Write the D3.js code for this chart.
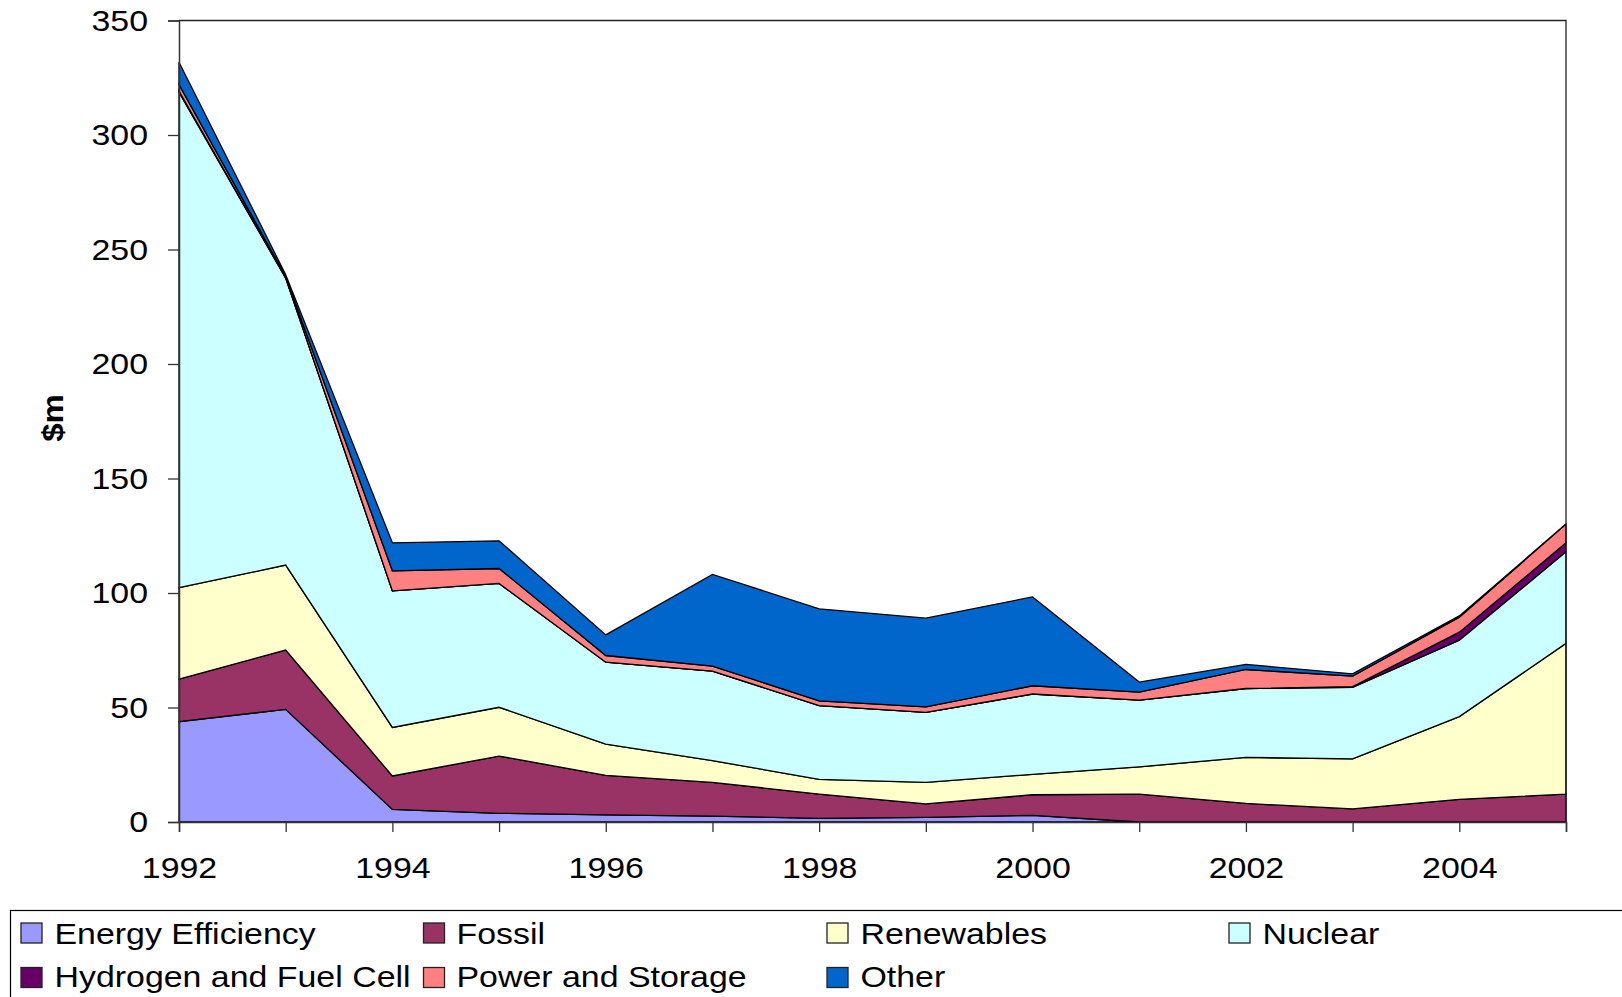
<!DOCTYPE html>
<html>
<head>
<meta charset="utf-8">
<script src="https://cdn.jsdelivr.net/npm/d3@7"></script>
<style>
  html, body { margin: 0; padding: 0; background: #fff; }
  svg { display: block; }
  text { font-family: "Liberation Sans", Arial, sans-serif; fill: #000; }
</style>
</head>
<body>
<svg id="chart" width="1622" height="997"></svg>
<script>
// ---- data ----
const years = [1992, 1993, 1994, 1995, 1996, 1997, 1998, 1999, 2000, 2001, 2002, 2003, 2004, 2005];
const energyEfficiency = [43.8, 49.2, 5.5, 3.8, 3.1, 2.6, 1.6, 2.0, 2.9, 0, 0, 0, 0, 0];
const fossil           = [18.6, 25.9, 14.6, 25.0, 17.3, 14.7, 10.6, 5.9, 9.0, 12.2, 8.1, 5.7, 9.9, 12.2];
const renewables       = [39.9, 37.1, 21.2, 21.3, 13.6, 9.5, 6.4, 9.4, 8.9, 11.9, 20.1, 21.9, 36.1, 65.8];
const nuclear          = [216.4, 125.3, 59.6, 54.1, 35.8, 39.1, 32.2, 30.6, 35.1, 29.1, 30.1, 31.2, 33.4, 40.0];
const hydrogen         = [0.5, 0.2, 0, 0, 0, 0, 0, 0, 0, 0, 0, 0.3, 3.5, 3.9];
const powerStorage     = [2.8, 0.5, 8.8, 6.5, 2.9, 2.2, 2.1, 2.4, 3.6, 3.5, 8.3, 4.6, 6.5, 8.2];
const other            = [9.8, 0.8, 12.2, 12.1, 9.0, 40.0, 40.2, 38.7, 38.8, 4.4, 2.2, 1.0, 0.6, 0];

const seriesNames = ["Energy Efficiency", "Fossil", "Renewables", "Nuclear", "Hydrogen and Fuel Cell", "Power and Storage", "Other"];
const seriesValues = [energyEfficiency, fossil, renewables, nuclear, hydrogen, powerStorage, other];
const seriesColors = ["#9999FF", "#993366", "#FFFFCC", "#CCFFFF", "#660066", "#FF8080", "#0066CC"];
const yTicks = [0, 50, 100, 150, 200, 250, 300, 350];
const xLabelYears = [1992, 1994, 1996, 1998, 2000, 2002, 2004];
const yTitle = "$m";

// ---- layout ----
const svg = d3.select("#chart");
const L = 179, R = 1566, T = 20.5, B = 822;
const SX = 1.13; // horizontal stretch of the original's lettering

const x = d3.scaleLinear().domain([1992, 2005]).range([L, R]);
const y = d3.scaleLinear().domain([0, 350]).range([B, T]);

const table = years.map((yr, i) => {
  const row = { year: yr };
  seriesNames.forEach((n, k) => row[n] = seriesValues[k][i]);
  return row;
});
const stacked = d3.stack().keys(seriesNames)(table);

const area = d3.area()
  .x(d => x(d.data.year))
  .y0(d => y(d[0]))
  .y1(d => y(d[1]));

svg.append("g").selectAll("path")
  .data(stacked)
  .join("path")
  .attr("d", area)
  .attr("fill", (d, i) => seriesColors[i])
  .attr("stroke", "#000")
  .attr("stroke-width", 1.3)
  .attr("stroke-linejoin", "miter");

// plot frame (top and right)
svg.append("path")
  .attr("d", `M${L},${T}H${R}V${B}`)
  .attr("fill", "none")
  .attr("stroke", "#222")
  .attr("stroke-width", 1.3);

// y axis
const yAxis = svg.append("g")
  .attr("transform", `translate(${L},0)`)
  .call(d3.axisLeft(y).tickValues(yTicks).tickSize(11).tickPadding(20).tickFormat(d3.format("d")));
yAxis.select(".domain").attr("stroke", "#333").attr("stroke-width", 1.5);
yAxis.selectAll(".tick line").attr("stroke", "#333").attr("stroke-width", 1.3);
yAxis.selectAll(".tick text").each(function() {
  const t = d3.select(this);
  const xx = +t.attr("x");
  t.attr("x", 0).attr("transform", `translate(${xx},0) scale(${SX},1)`);
});
yAxis.selectAll("text").style("font-size", "30px").style("font-family", "'Liberation Sans', Arial, sans-serif").attr("fill", "#000");

// x axis
const xAxis = svg.append("g")
  .attr("transform", `translate(0,${B})`)
  .call(d3.axisBottom(x).tickValues(years).tickSize(10).tickPadding(25)
    .tickFormat(d => xLabelYears.includes(d) ? String(d) : ""));
xAxis.select(".domain").attr("stroke", "#333").attr("stroke-width", 1.5);
xAxis.selectAll(".tick line").attr("stroke", "#333").attr("stroke-width", 1.3);
xAxis.selectAll(".tick text").attr("transform", `scale(${SX},1)`);
xAxis.selectAll("text").style("font-size", "30px").style("font-family", "'Liberation Sans', Arial, sans-serif").attr("fill", "#000");

// y title
svg.append("text")
  .attr("transform", `translate(63,418) rotate(-90) scale(1.1,1)`)
  .attr("text-anchor", "middle")
  .style("font-size", "30px")
  .style("font-weight", "bold")
  .text(yTitle);

// legend
svg.append("rect")
  .attr("x", 10.5).attr("y", 910.5)
  .attr("width", 1700).attr("height", 200)
  .attr("fill", "none").attr("stroke", "#000").attr("stroke-width", 1.2);

const colSwatch = [21, 423.5, 827, 1229];
const colText = [54.5, 456.5, 860.5, 1262.5];
const rowSwatchTop = [923, 967.5];
const rowBaseline = [943.5, 987];

const leg = svg.append("g").selectAll("g")
  .data(seriesNames)
  .join("g");
leg.append("rect")
  .attr("x", (d, i) => colSwatch[i % 4])
  .attr("y", (d, i) => rowSwatchTop[Math.floor(i / 4)])
  .attr("width", 21).attr("height", 20)
  .attr("fill", (d, i) => seriesColors[i])
  .attr("stroke", "#222").attr("stroke-width", 1.3);
leg.append("text")
  .attr("transform", (d, i) => `translate(${colText[i % 4]},${rowBaseline[Math.floor(i / 4)]}) scale(${SX},1)`)
  .style("font-size", "30px")
  .text(d => d);
</script>
</body>
</html>
